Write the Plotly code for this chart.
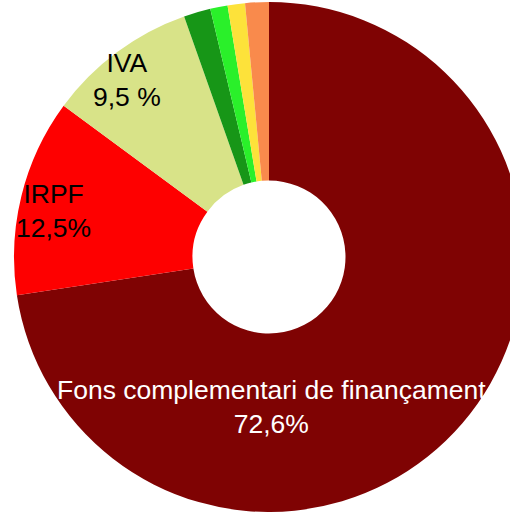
import plotly.graph_objects as go

labels = ["Fons complementari de finançament", "IRPF", "IVA",
          "Altres 1", "Altres 2", "Altres 3", "Altres 4"]
values = [72.6, 12.5, 9.5, 1.7, 1.1, 1.1, 1.5]
value_texts = ["72,6%", "12,5%", "9,5 %", "", "", "", ""]
colors = ["#7f0303", "#fe0000", "#d8e388", "#179617", "#2af02a", "#fde23a", "#f98a4c"]
shown = [0, 1, 2]
label_pos = {0: (271, 407), 1: (53, 211), 2: (127, 80)}
label_color = {0: "white", 1: "black", 2: "black"}

W, H = 530, 512
cx, cy, R = 269, 257, 255

fig = go.Figure(go.Pie(
    labels=labels, values=values, sort=False, direction="clockwise",
    rotation=0, hole=0.3, marker=dict(colors=colors, line=dict(width=0)),
    textinfo="none", hoverinfo="label+percent",
    domain=dict(x=[(cx - R) / W, (cx + R) / W],
                y=[max(0, (H - cy - R) / H), min(1, (H - cy + R) / H)]),
    showlegend=False,
))

for i in shown:
    x, y = label_pos[i]
    fig.add_annotation(
        x=x / W, y=1 - y / H, xref="paper", yref="paper", showarrow=False,
        xanchor="center", yanchor="middle",
        text=f"{labels[i]}<br>{value_texts[i]}",
        font=dict(family="Liberation Sans, Arial", size=26.5, color=label_color[i]),
        align="center",
    )

fig.update_layout(width=W, height=H, margin=dict(l=0, r=0, t=0, b=0),
                  paper_bgcolor="white", plot_bgcolor="white")
fig.write_html(
    "out.html",
    config={"displayModeBar": False},
    post_script="document.body.style.margin='0';"
                "document.body.style.overflow='hidden';"
                "document.documentElement.style.overflow='hidden';",
)
